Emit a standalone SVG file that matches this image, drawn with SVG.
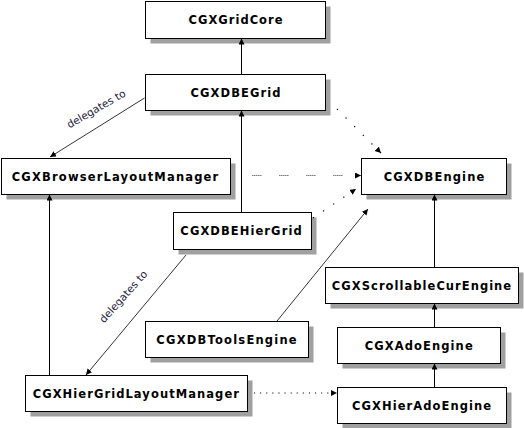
<svg xmlns="http://www.w3.org/2000/svg" width="524" height="428" viewBox="0 0 524 428">
<style>
.shadow{fill:#a0a0a0;stroke:none}
.box{fill:#fff;stroke:#000;stroke-width:1}
.lbl{font-family:"DejaVu Sans",Verdana,sans-serif;font-weight:bold;font-size:11.5px;fill:#000;text-anchor:middle}
.note{font-family:"DejaVu Sans",Verdana,sans-serif;font-size:10.5px;fill:#1a1a3a;text-anchor:middle}
.solid{stroke:#000;stroke-width:1;fill:none}
.thin{stroke:#000;stroke-width:0.8;fill:none}
.dots{stroke:#000;stroke-width:1.2;fill:none;stroke-dasharray:1.2 11}
.dots2{stroke:#000;stroke-width:1;fill:none;stroke-dasharray:0.8 1.2 0.8 1.2 0.8 1.2 0.8 1.2 0.8 18.2}
.dots3{stroke:#000;stroke-width:1.1;fill:none;stroke-dasharray:1.1 5}
</style>
<defs>
<marker id="ah" markerUnits="userSpaceOnUse" markerWidth="7" markerHeight="7" refX="6" refY="3" orient="auto">
<path d="M0,0 L6,3 L0,6 z" fill="#000"/>
</marker>
</defs>
<rect width="524" height="428" fill="#fff"/>
<g id="CGXGridCore">
<rect class="shadow" x="150.5" y="6.5" width="180" height="37"/>
<rect class="box" x="145.5" y="1.5" width="180" height="37"/>
<text class="lbl" x="235.5" y="24" textLength="94" lengthAdjust="spacing">CGXGridCore</text>
</g>
<g id="CGXDBEGrid">
<rect class="shadow" x="150.5" y="79.5" width="180" height="36"/>
<rect class="box" x="145.5" y="74.5" width="180" height="36"/>
<text class="lbl" x="235.5" y="96.5" textLength="90" lengthAdjust="spacing">CGXDBEGrid</text>
</g>
<g id="CGXBrowserLayoutManager">
<rect class="shadow" x="6.5" y="163.5" width="229" height="36"/>
<rect class="box" x="1.5" y="158.5" width="229" height="36"/>
<text class="lbl" x="115" y="180.5" textLength="206.5" lengthAdjust="spacing">CGXBrowserLayoutManager</text>
</g>
<g id="CGXDBEngine">
<rect class="shadow" x="366.5" y="163.5" width="145" height="36"/>
<rect class="box" x="361.5" y="158.5" width="145" height="36"/>
<text class="lbl" x="434" y="180.5" textLength="100.7" lengthAdjust="spacing">CGXDBEngine</text>
</g>
<g id="CGXDBEHierGrid">
<rect class="shadow" x="178.5" y="217.5" width="138" height="37"/>
<rect class="box" x="173.5" y="212.5" width="138" height="37"/>
<text class="lbl" x="241" y="235" textLength="121.3" lengthAdjust="spacing">CGXDBEHierGrid</text>
</g>
<g id="CGXScrollableCurEngine">
<rect class="shadow" x="330.5" y="272.5" width="193" height="36"/>
<rect class="box" x="325.5" y="267.5" width="193" height="36"/>
<text class="lbl" x="421.5" y="289.5" textLength="179.3" lengthAdjust="spacing">CGXScrollableCurEngine</text>
</g>
<g id="CGXDBToolsEngine">
<rect class="shadow" x="150.5" y="326.5" width="163" height="36"/>
<rect class="box" x="145.5" y="321.5" width="163" height="36"/>
<text class="lbl" x="226.5" y="343.5" textLength="140.3" lengthAdjust="spacing">CGXDBToolsEngine</text>
</g>
<g id="CGXAdoEngine">
<rect class="shadow" x="342.5" y="332.5" width="163" height="36"/>
<rect class="box" x="337.5" y="327.5" width="163" height="36"/>
<text class="lbl" x="418.7" y="349.5" textLength="108" lengthAdjust="spacing">CGXAdoEngine</text>
</g>
<g id="CGXHierGridLayoutManager">
<rect class="shadow" x="30.5" y="380.5" width="222" height="36"/>
<rect class="box" x="25.5" y="375.5" width="222" height="36"/>
<text class="lbl" x="135.8" y="397.5" textLength="206.3" lengthAdjust="spacing">CGXHierGridLayoutManager</text>
</g>
<g id="CGXHierAdoEngine">
<rect class="shadow" x="342.5" y="392.5" width="169" height="36"/>
<rect class="box" x="337.5" y="387.5" width="169" height="36"/>
<text class="lbl" x="421.5" y="409.5" textLength="139" lengthAdjust="spacing">CGXHierAdoEngine</text>
</g>
<g id="connectors">
<line class="solid" x1="241.5" y1="74" x2="241.5" y2="38.5" marker-end="url(#ah)"/>
<line class="solid" x1="241.5" y1="212" x2="241.5" y2="110.5" marker-end="url(#ah)"/>
<line class="solid" x1="49.5" y1="375" x2="49.5" y2="194.5" marker-end="url(#ah)"/>
<line class="solid" x1="434.5" y1="267" x2="434.5" y2="194.5" marker-end="url(#ah)"/>
<line class="solid" x1="434.5" y1="327" x2="434.5" y2="303.5" marker-end="url(#ah)"/>
<line class="solid" x1="434.5" y1="387" x2="434.5" y2="363.5" marker-end="url(#ah)"/>
<line class="thin" x1="144.5" y1="98" x2="50" y2="157" marker-end="url(#ah)"/>
<line class="thin" x1="186" y1="255" x2="86" y2="375" marker-end="url(#ah)"/>
<line class="thin" x1="277" y1="321" x2="368" y2="209" marker-end="url(#ah)"/>
<line class="dots" x1="337" y1="109" x2="381" y2="153" marker-end="url(#ah)"/>
<line class="dots2" x1="252.5" y1="175.5" x2="361" y2="175.5" marker-end="url(#ah)"/>
<line class="dots" x1="313" y1="218" x2="356" y2="189" marker-end="url(#ah)"/>
<line class="dots3" x1="254" y1="393" x2="337" y2="393" marker-end="url(#ah)"/>
<text class="note" transform="translate(98,112) rotate(-30)" textLength="66" lengthAdjust="spacing">delegates to</text>
<text class="note" transform="translate(126,299) rotate(-48)" textLength="66" lengthAdjust="spacing">delegates to</text>
</g>
</svg>
